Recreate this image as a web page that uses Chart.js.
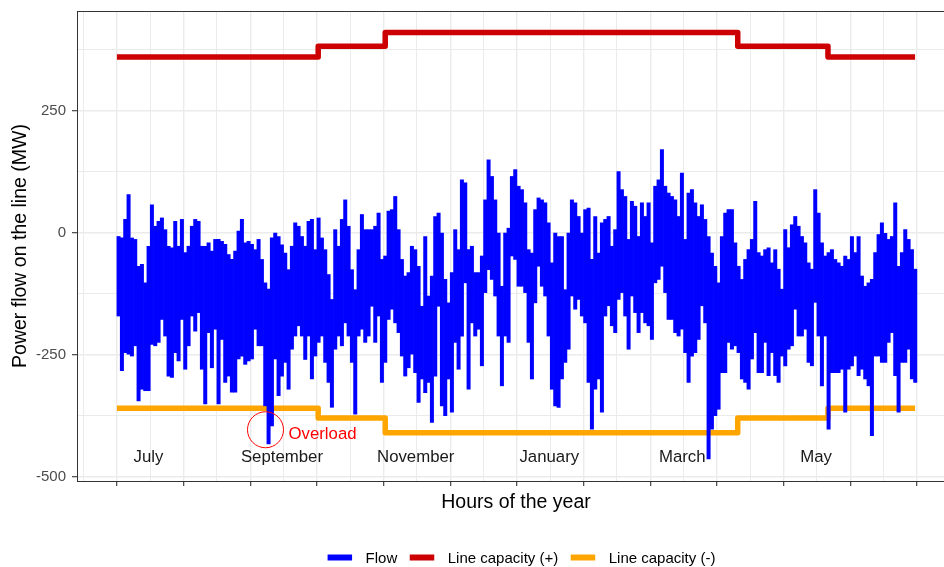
<!DOCTYPE html>
<html>
<head>
<meta charset="utf-8">
<title>Power flow on the line</title>
<script src="https://cdn.jsdelivr.net/npm/chart.js@4.4.1/dist/chart.umd.min.js"></script>
<style>
  html, body { margin: 0; padding: 0; background: #ffffff; overflow: hidden; }
  #wrap { position: relative; width: 960px; height: 567px; }
  canvas { display: block; }
</style>
</head>
<body>
<div id="wrap"><canvas id="flowChart" width="960" height="567" style="width:960px;height:567px"></canvas></div>
<script>
// Hourly flow summarised per 36.5-hour window: highest and lowest value in each window (MW)
const flowStepHours = 36.5;
const flowHigh = [
  -8, -11, 27, 78, -11, -14, -69, -65, -103, -28, 57, 13, 23, 30, 6, -28, -31, 23, -28, 27, -41, -28, 13, 27,
  23, -28, -28, -21, -38, -14, -14, -18, -24, -45, -55, -38, 3, 27, -21, -18, -24, -35, -14, -55, -103, -116, -11, -1,
  -8, -25, -42, -76, -28, 20, 13, -8, -28, 23, 27, -35, 30, -11, -35, -86, -137, 6, -28, 27, 67, 13, -76, -117,
  -35, 37, 6, 6, 6, 13, 40, -55, -48, 44, 47, 74, 6, -55, -89, -82, -28, -35, -69, -151, -8, -130, -89, 33,
  40, -1, -96, -144, -82, 6, -35, 108, 102, -35, -28, -82, -82, -48, 67, 149, 115, 67, -1, -110, -1, 9, 115, 129,
  95, 88, 61, -35, -42, 47, 71, 67, 61, 20, -62, -1, -8, -8, -117, -1, 67, 61, 33, -1, 47, 50, -55, 33,
  -42, 20, 27, 33, -28, 6, 125, 88, 74, -14, 64, 54, -8, 61, 33, 61, -21, 95, 108, 170, 95, 81, 74, 67,
  33, 122, -14, 81, 88, 61, 33, 57, 27, -8, -42, -69, -103, -8, 40, 47, 47, -21, -69, -96, -55, -35, -14, 64,
  -41, -48, -35, -31, -62, -35, -75, -116, 6, -31, 16, 33, 13, -8, -21, -62, -75, 88, 40, -21, -48, -41, -35, -55,
  -62, -69, -48, -55, -8, -41, -8, -89, -110, -103, -96, -41, -4, 20, 0, -14, -8, 61, -69, -41, 6, -14, -35, -75
];
const flowLow = [
  -171, -283, -246, -249, -253, -232, -345, -321, -324, -324, -229, -232, -225, -178, -212, -294, -297, -246, -263, -178, -280, -232, -171, -202,
  -164, -280, -351, -205, -277, -198, -351, -219, -307, -294, -327, -327, -259, -253, -270, -263, -259, -198, -232, -232, -355, -433, -396, -259,
  -334, -294, -266, -321, -239, -212, -191, -212, -260, -212, -300, -253, -225, -212, -266, -307, -358, -239, -212, -232, -185, -212, -266, -372,
  -212, -198, -225, -212, -151, -225, -171, -307, -266, -178, -157, -185, -205, -253, -294, -277, -249, -287, -348, -300, -328, -307, -389, -294,
  -151, -355, -375, -300, -368, -225, -280, -212, -103, -321, -185, -212, -198, -273, -123, -76, -96, -130, -212, -314, -212, -225, -48, -55,
  -110, -110, -123, -225, -300, -144, -69, -110, -130, -212, -321, -355, -358, -300, -266, -239, -130, -157, -137, -171, -185, -307, -403, -321,
  -300, -368, -171, -150, -191, -205, -137, -123, -171, -239, -130, -164, -205, -164, -185, -191, -219, -103, -96, -69, -123, -178, -178, -205,
  -212, -198, -246, -307, -253, -246, -219, -150, -185, -464, -403, -375, -362, -287, -287, -225, -239, -232, -246, -300, -307, -321, -259, -205,
  -287, -287, -225, -293, -246, -293, -307, -253, -273, -239, -232, -157, -212, -212, -198, -266, -273, -143, -212, -314, -212, -403, -287, -287,
  -287, -280, -368, -280, -273, -253, -293, -280, -300, -314, -416, -253, -253, -266, -266, -225, -205, -293, -368, -266, -266, -239, -300, -307
];

// Line capacity: level in force from each listed hour onwards (MW)
const capHours = [0, 2204, 2938, 6798, 7786, 8740];
const capPlus = [360, 382, 410, 382, 360, 360];
const capMinus = [-360, -380, -410, -380, -360, -360];

const seriesNames = ['Flow', 'Line capacity (+)', 'Line capacity (-)'];
const seriesColors = ['#0000FF', '#CC0000', '#FFA500'];

// Month names written inside the panel, and the overload marker
const monthLabels = ['July', 'September', 'November', 'January', 'March', 'May'];
const monthLabelHours = [346, 1807, 3272, 4735, 6190, 7655];
const monthLabelLevel = -470;
const overloadLabel = 'Overload';
const overloadPoint = [1627, -404];
const overloadLabelAt = [1879, -422];

// Axis breaks
const xMajorStep = 730;
const xMinorStep = 365;
const yMajorStep = 250;
const yMinorStep = 125;

const FONT = '"Liberation Sans", Arial, Helvetica, sans-serif';
Chart.defaults.font.family = FONT;

// each window drawn as a floating range from its lowest to its highest value
const flowRanges = flowHigh.map((hi, i) => ({
  x: i * flowStepHours + flowStepHours / 2,
  y: [flowLow[i], hi]
}));
const capPlusPoints = capHours.map((h, i) => ({ x: h, y: capPlus[i] }));
const capMinusPoints = capHours.map((h, i) => ({ x: h, y: capMinus[i] }));

const xGrid = [];
for (let v = -xMinorStep; v <= 8760 + xMinorStep; v += xMinorStep) xGrid.push(v);
const yGrid = [];
for (let v = -500; v <= 375; v += yMinorStep) yGrid.push(v);

const isMajorX = c => c.tick && c.tick.value % xMajorStep === 0;
const isMajorY = c => c.tick && c.tick.value % yMajorStep === 0;

// Panel frame, in-panel text and the bottom legend
const decor = {
  id: 'decor',
  afterDatasetsDraw(chart) {
    const { ctx, scales: { x, y } } = chart;
    ctx.save();
    ctx.font = '16.8px ' + FONT;
    ctx.textBaseline = 'alphabetic';
    ctx.textAlign = 'center';
    ctx.fillStyle = '#1a1a1a';
    monthLabels.forEach((m, i) => {
      ctx.fillText(m, x.getPixelForValue(monthLabelHours[i]), y.getPixelForValue(monthLabelLevel));
    });
    ctx.textAlign = 'left';
    ctx.fillStyle = '#FF0000';
    ctx.fillText(overloadLabel, x.getPixelForValue(overloadLabelAt[0]), y.getPixelForValue(overloadLabelAt[1]));
    ctx.restore();
  },
  afterDraw(chart) {
    const { ctx, chartArea: a } = chart;
    ctx.save();
    ctx.strokeStyle = '#333333';
    ctx.lineWidth = 1;
    ctx.strokeRect(Math.round(a.left) + 0.5, Math.round(a.top) + 0.5,
                   Math.round(a.right - a.left), Math.round(a.bottom - a.top));

    // legend
    const keyW = 24.5, keyH = 6, keyGap = 13.5, itemGap = 12.5, cy = 557.5, centerX = 521.5;
    ctx.font = '15px ' + FONT;
    const widths = seriesNames.map(n => ctx.measureText(n).width);
    let total = 0;
    widths.forEach(w => { total += keyW + keyGap + w; });
    total += itemGap * (seriesNames.length - 1);
    let px = centerX - total / 2;
    ctx.textBaseline = 'middle';
    ctx.textAlign = 'left';
    seriesNames.forEach((n, i) => {
      ctx.fillStyle = seriesColors[i];
      ctx.fillRect(px, cy - keyH / 2, keyW, keyH);
      px += keyW + keyGap;
      ctx.fillStyle = '#000000';
      ctx.fillText(n, px, cy + 1);
      px += widths[i] + itemGap;
    });
    ctx.restore();
  }
};

new Chart(document.getElementById('flowChart'), {
  type: 'line',
  data: {
    datasets: [
      { type: 'bar', label: seriesNames[0], data: flowRanges, backgroundColor: seriesColors[0],
        borderWidth: 0, barPercentage: 1, categoryPercentage: 1, grouped: false },
      { label: seriesNames[1], data: capPlusPoints, borderColor: seriesColors[1], borderWidth: 5.5,
        stepped: 'before', pointRadius: 0, borderJoinStyle: 'round', borderCapStyle: 'butt', fill: false },
      { label: seriesNames[2], data: capMinusPoints, borderColor: seriesColors[2], borderWidth: 5.5,
        stepped: 'before', pointRadius: 0, borderJoinStyle: 'round', borderCapStyle: 'butt', fill: false },
      { label: overloadLabel, data: [{ x: overloadPoint[0], y: overloadPoint[1] }], showLine: false,
        pointRadius: 18, pointBorderColor: '#FF0000', pointBackgroundColor: 'rgba(0,0,0,0)',
        pointBorderWidth: 1, order: -1 }
    ]
  },
  options: {
    responsive: false,
    animation: false,
    devicePixelRatio: 1,
    events: [],
    layout: { autoPadding: false, padding: { left: 0, right: 5, top: 11, bottom: 46 } },
    plugins: { legend: { display: false }, tooltip: { enabled: false } },
    scales: {
      x: {
        type: 'linear',
        min: -437,
        max: 9177,
        offset: false,
        afterBuildTicks: s => { s.ticks = xGrid.map(v => ({ value: v })); },
        afterFit: s => { s.height = 40; s.paddingLeft = 0; s.paddingRight = 0; },
        ticks: { callback: () => '', autoSkip: false, maxRotation: 0 },
        grid: {
          offset: false,
          color: '#EBEBEB',
          lineWidth: c => isMajorX(c) ? 1.4 : 1,
          tickColor: c => isMajorX(c) ? '#333333' : 'rgba(0,0,0,0)',
          tickWidth: 1.1,
          tickLength: 5,
          drawTicks: true
        },
        border: { display: false },
        title: { display: true, text: 'Hours of the year', color: '#000000',
                 font: { size: 19.5, family: FONT }, padding: { top: 0, bottom: 6.5 } }
      },
      y: {
        type: 'linear',
        min: -509,
        max: 454,
        afterBuildTicks: s => { s.ticks = yGrid.map(v => ({ value: v })); },
        afterFit: s => { s.width = 77; s.paddingTop = 0; s.paddingBottom = 0; },
        ticks: {
          callback: v => (v % yMajorStep === 0 ? String(v) : ''),
          color: '#4D4D4D',
          font: { size: 15, family: FONT },
          padding: 6,
          autoSkip: false
        },
        grid: {
          color: '#EBEBEB',
          lineWidth: c => isMajorY(c) ? 1.4 : 1,
          tickColor: c => isMajorY(c) ? '#333333' : 'rgba(0,0,0,0)',
          tickWidth: 1.1,
          tickLength: 5,
          drawTicks: true
        },
        border: { display: false },
        title: { display: true, text: 'Power flow on the line (MW)', color: '#000000',
                 font: { size: 19.5, family: FONT }, padding: { top: 8.8, bottom: 0 } }
      }
    }
  },
  plugins: [decor]
});
</script>
</body>
</html>
